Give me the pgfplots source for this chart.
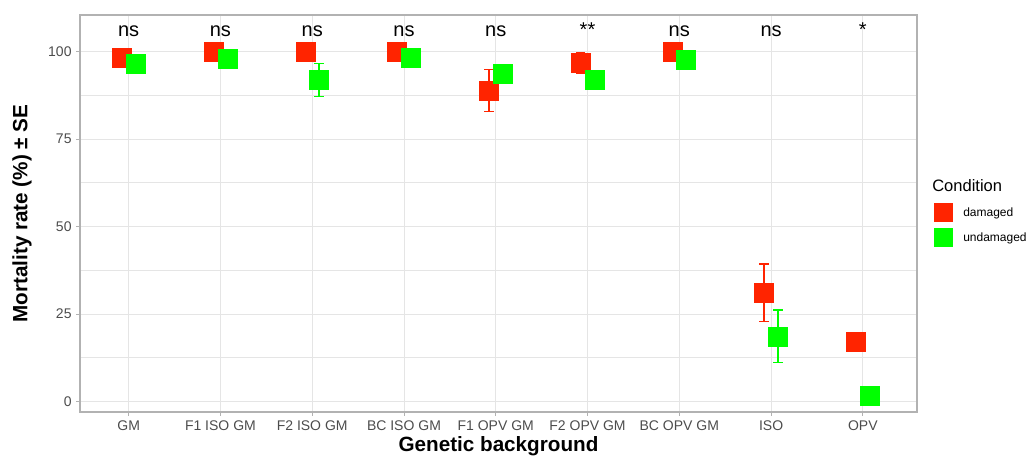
\documentclass[border=0pt]{standalone}
\usepackage{fontspec}
\setmainfont{Liberation Sans}
\usepackage{pgfplots}
\pgfplotsset{compat=1.18}
\definecolor{dmg}{RGB}{255,36,0}
\definecolor{udm}{RGB}{0,255,0}
\definecolor{g70}{gray}{0.70}
\definecolor{g87}{gray}{0.90}
\definecolor{g30}{gray}{0.30}
\begin{document}
\begin{tikzpicture}
\useasboundingbox (-60pt,-32.25pt) rectangle (714.75pt,309pt);
\begin{axis}[
  scale only axis, width=627.75pt, height=297.75pt,
  at={(0,0)}, anchor=south west,
  xmin=-0.53, xmax=8.59, ymin=-3, ymax=110.43,
  xtick={0,1,2,3,4,5,6,7,8},
  xticklabels={GM, F1 ISO GM, F2 ISO GM, BC ISO GM, F1 OPV GM, F2 OPV GM, BC OPV GM, ISO, OPV},
  ytick={0,25,50,75,100}, minor ytick={12.5,37.5,62.5,87.5},
  grid=both,
  major grid style={g87, line width=0.7pt},
  minor grid style={g87, line width=0.4pt},
  axis line style={g70, line width=0.8pt},
  tick style={g70, line width=0.7pt},
  tick align=outside, major tick length=2.8pt, minor tick length=0pt,
  xtick pos=bottom, ytick pos=left,
  ticklabel style={font=\fontsize{10.5}{12}\selectfont, text=g30},
  /pgf/number format/assume math mode=true,
  xlabel={Genetic background}, ylabel={Mortality rate (\%) ± SE},
  label style={font=\fontsize{15.5}{17}\selectfont\bfseries},
  xlabel style={at={(axis description cs:0.5,-0.0856)}, anchor=center},
  ylabel style={at={(axis description cs:-0.0693,0.5)}, anchor=center},
  legend style={draw=none, fill=none, at={(axis description cs:1.0203,0.5264)}, anchor=north west,
    inner sep=0pt, row sep=4.5pt, column sep=7.5pt, font=\fontsize{9}{10}\selectfont,
    nodes={inner sep=0pt}},
  legend cell align=left,
  legend image code/.code={\fill[#1, draw=none] (0pt,-7.125pt) rectangle (14.25pt,7.125pt);},
  clip=false,
]
\addplot[only marks, mark=square*, mark size=7.125pt, color=dmg, mark options={draw=dmg, fill=dmg},
  error bars/.cd, y dir=both, y explicit,
  error bar style={line width=1.1pt, dmg},
  error mark options={rotate=90, mark size=3.6pt, line width=1.1pt, dmg}]
  table[x=x, y=y, y error=e] {
x y e
-0.075 98.2 0
0.925 99.9 0
1.925 100 0
2.925 99.9 0
3.925 88.9 6.0
4.925 96.7 3.0
5.925 100 0
6.925 31.1 8.2
7.925 17.1 0
};
\addlegendentry{damaged}
\addplot[only marks, mark=square*, mark size=7.125pt, color=udm, mark options={draw=udm, fill=udm},
  error bars/.cd, y dir=both, y explicit,
  error bar style={line width=1.1pt, udm},
  error mark options={rotate=90, mark size=3.6pt, line width=1.1pt, udm}]
  table[x=x, y=y, y error=e] {
x y e
0.075 96.6 0
1.075 97.8 0
2.075 91.9 4.7
3.075 98.2 0
4.075 93.6 0
5.075 91.9 0
6.075 97.7 0
7.075 18.6 7.5
8.075 1.5 0
};
\addlegendentry{undamaged}
\foreach \i/\t in {0/ns,1/ns,2/ns,3/ns,4/ns,5/{**},6/ns,7/ns,8/{*}} {
  \edef\tmp{\noexpand\node[anchor=base, font=\noexpand\fontsize{15}{17}\noexpand\selectfont, inner sep=0pt] at (axis cs:\i,104.4) {\t};}
  \tmp
}
\node[anchor=west, inner sep=0pt, font=\fontsize{12.4}{14}\selectfont] at (axis description cs:1.0179,0.5693) {Condition};
\end{axis}
\end{tikzpicture}
\end{document}
